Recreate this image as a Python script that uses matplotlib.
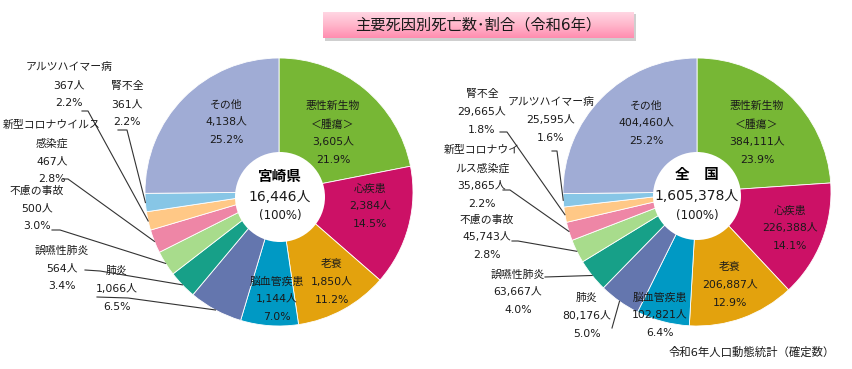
import matplotlib.pyplot as plt
import numpy as np
from matplotlib.patches import Circle, Rectangle
from matplotlib.colors import LinearSegmentedColormap

plt.rcParams['font.family'] = ['DejaVu Sans', 'Noto Sans CJK JP']

W, H = 853, 369

# 宮崎県
miyazaki_causes = ['悪性新生物', '心疾患', '老衰', '脳血管疾患', '肺炎', '誤嚥性肺炎',
                   '不慮の事故', '新型コロナウイルス感染症', 'アルツハイマー病', '腎不全', 'その他']
miyazaki_deaths = [3605, 2384, 1850, 1144, 1066, 564, 500, 467, 367, 361, 4138]
miyazaki_pct = [21.9, 14.5, 11.2, 7.0, 6.5, 3.4, 3.0, 2.8, 2.2, 2.2, 25.2]

# 全国
national_causes = ['悪性新生物', '心疾患', '老衰', '脳血管疾患', '肺炎', '誤嚥性肺炎',
                   '不慮の事故', '新型コロナウイルス感染症', '腎不全', 'アルツハイマー病', 'その他']
national_deaths = [384111, 226388, 206887, 102821, 80176, 63667, 45743, 35865, 29665, 25595, 404460]
national_pct = [23.9, 14.1, 12.9, 6.4, 5.0, 4.0, 2.8, 2.2, 1.8, 1.6, 25.2]

# slice colours by position (largest named cause first, その他 last)
colors = ['#77B735', '#CC1166', '#E3A20D', '#0099C4', '#6476AE', '#17A088',
          '#A8DC8C', '#EE86A6', '#FFC886', '#87C6E6', '#A0ACD5']

TEXT = '#1a1a1a'
R = 134

# label layout, pixel coords from the top-left corner
left_names = {'悪性新生物': '悪性新生物\n＜腫瘍＞', '新型コロナウイルス感染症': '新型コロナウイルス\n感染症'}
left_pos = {'悪性新生物': (333, 133), '心疾患': (370, 206), '老衰': (332, 282), '脳血管疾患': (277, 299),
            '肺炎': (117, 289), '誤嚥性肺炎': (62, 268), '不慮の事故': (37, 208),
            '新型コロナウイルス感染症': (52, 152), 'アルツハイマー病': (69, 85), '腎不全': (127, 104),
            'その他': (226, 122)}
left_leader = {'肺炎': [(97, 297), (128, 298)], '誤嚥性肺炎': [(85, 270), (100, 271)],
               '不慮の事故': [(52, 230), (60, 230)], '新型コロナウイルス感染症': [(63, 179), (68, 179)],
               'アルツハイマー病': [(82, 111), (88, 111)], '腎不全': [(118, 130), (127, 130)]}

right_names = {'悪性新生物': '悪性新生物\n＜腫瘍＞', '新型コロナウイルス感染症': '新型コロナウイ\nルス感染症'}
right_pos = {'悪性新生物': (757, 133), '心疾患': (790, 228), '老衰': (730, 285), '脳血管疾患': (660, 315),
             '肺炎': (587, 316), '誤嚥性肺炎': (518, 292), '不慮の事故': (487, 237),
             '新型コロナウイルス感染症': (482, 177), '腎不全': (482, 112), 'アルツハイマー病': (551, 120),
             'その他': (646, 123)}
right_leader = {'肺炎': [(612, 328)], '誤嚥性肺炎': [(545, 277)], '不慮の事故': [(512, 241), (518, 241)],
                '新型コロナウイルス感染症': [(503, 190), (510, 190)], '腎不全': [(500, 132), (507, 132)],
                'アルツハイマー病': [(552, 151), (557, 151)]}


def draw_pie(ax, causes, deaths, pct, center, names, pos, leader, hole, head):
    cx, cy = center
    wedges, _ = ax.pie(deaths, colors=colors, startangle=90, counterclock=False,
                       radius=R, center=(cx, H - cy),
                       wedgeprops=dict(edgecolor='white', linewidth=0.6))
    for w, cause, n, p in zip(wedges, causes, deaths, pct):
        x, y = pos[cause]
        ax.text(x, H - y, f'{names.get(cause, cause)}\n{n:,}人\n{p:.1f}%', ha='center', va='center',
                fontsize=7.8, linespacing=1.95, color=TEXT, zorder=5)
        if cause in leader:
            mid = np.deg2rad((w.theta1 + w.theta2) / 2)
            ax_x = w.center[0] + w.r * np.cos(mid)
            ax_y = w.center[1] + w.r * np.sin(mid)
            xs = [px for px, py in leader[cause]] + [ax_x]
            ys = [H - py for px, py in leader[cause]] + [ax_y]
            ax.plot(xs, ys, color='#333333', lw=0.8, zorder=4)

    # white centre with the total
    hx, hy, hr = hole
    ax.add_patch(Circle((hx, H - hy), hr, facecolor='white', edgecolor='none', zorder=3))
    ax.text(hx, H - hy + 21, head, ha='center', va='center', fontsize=10.5, fontweight='bold',
            color='black', zorder=5)
    ax.text(hx, H - hy, f'{sum(deaths):,}人', ha='center', va='center', fontsize=10,
            color=TEXT, zorder=5)
    ax.text(hx, H - hy - 19, '(100%)', ha='center', va='center', fontsize=8.5, color=TEXT, zorder=5)


fig = plt.figure(figsize=(W / 100, H / 100), dpi=100)
ax = fig.add_axes([0, 0, 1, 1])

draw_pie(ax, miyazaki_causes, miyazaki_deaths, miyazaki_pct, (279, 192),
         left_names, left_pos, left_leader, (280, 197, 45), '宮崎県')
draw_pie(ax, national_causes, national_deaths, national_pct, (697, 192),
         right_names, right_pos, right_leader, (697, 196, 44), '全　国')

# title box with a pink gradient and a soft shadow
ax.add_patch(Rectangle((325, H - 41), 311, 27, facecolor='#cfcfcf', edgecolor='none', zorder=1))
grad = LinearSegmentedColormap.from_list('pinkgrad', ['#FFD6E3', '#FFB6CB', '#FF8DB0'])
ax.imshow(np.linspace(0, 1, 60).reshape(-1, 1), cmap=grad, aspect='auto',
          extent=(323, 634, H - 38, H - 12), zorder=2)
ax.text(478, H - 25, '主要死因別死亡数･割合（令和6年）', ha='center', va='center',
        fontsize=11, color=TEXT, zorder=5)

ax.text(752, H - 352, '令和6年人口動態統計（確定数）', ha='center', va='center',
        fontsize=8.2, color=TEXT)

ax.set_xlim(0, W)
ax.set_ylim(0, H)
ax.axis('off')

fig.savefig('out.png', dpi=100)
